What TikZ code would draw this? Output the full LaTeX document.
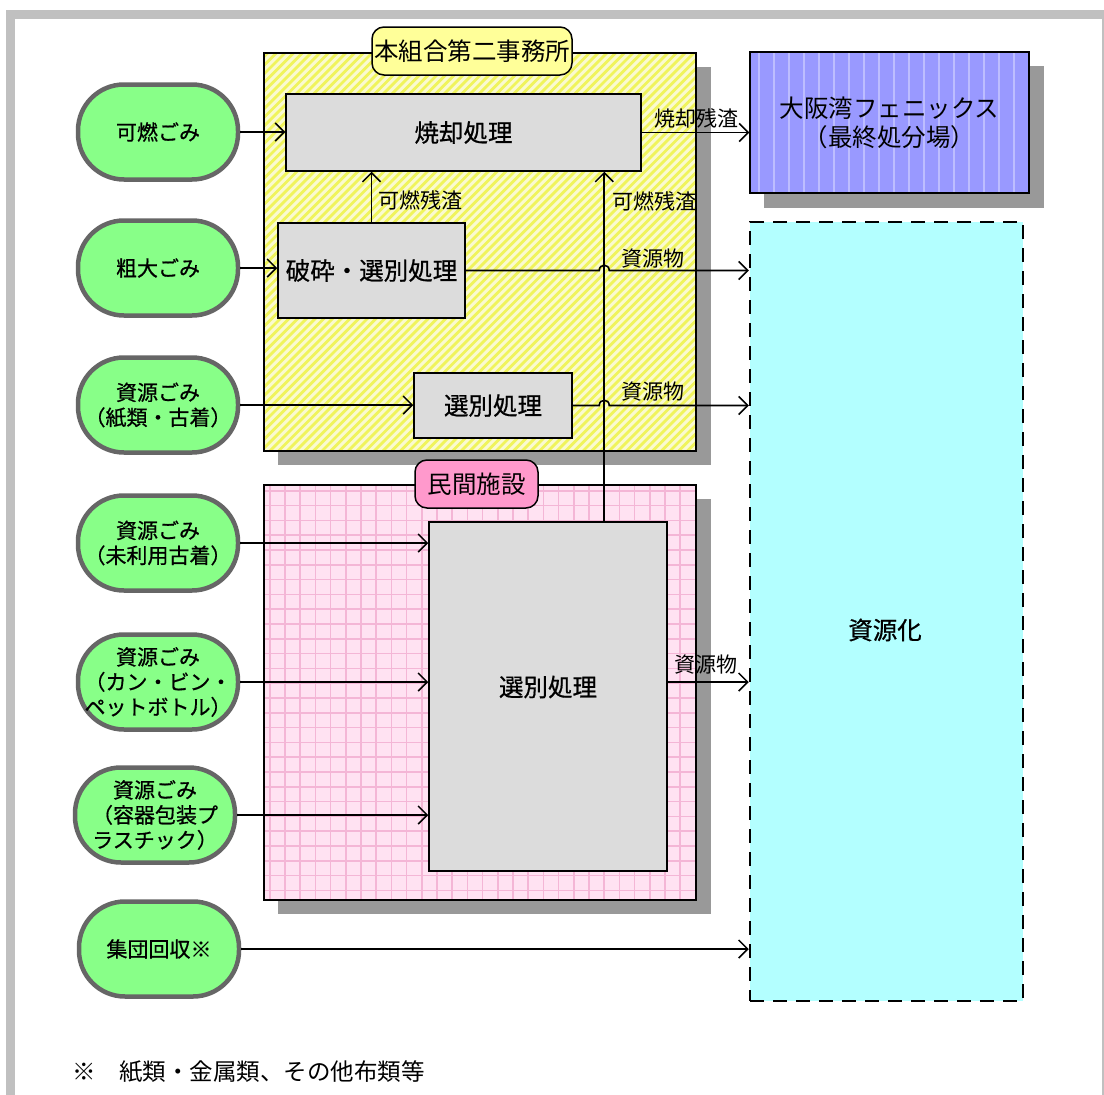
\documentclass[tikz,border=0pt]{standalone}
\usepackage{fontspec}
\setmainfont{Noto Sans CJK JP}
\newfontfamily\medfont[FakeBold=0.7]{Noto Sans CJK JP}
\usetikzlibrary{arrows.meta,calc}
\definecolor{framegray}{HTML}{C0C0C0}
\definecolor{shadowc}{HTML}{999999}
\definecolor{ovalgreen}{HTML}{88FF88}
\definecolor{ovalborder}{HTML}{666666}
\definecolor{procgray}{HTML}{DCDCDC}
\definecolor{yelbase}{HTML}{FAFAD0}
\definecolor{yelstripe}{HTML}{F0F45C}
\definecolor{yellabel}{HTML}{FFFF99}
\definecolor{pinkbase}{HTML}{FFE2F2}
\definecolor{pinkline}{HTML}{F4B6D6}
\definecolor{pinklabel}{HTML}{FF99CC}
\definecolor{bluebase}{HTML}{9999FF}
\definecolor{bluestripe}{HTML}{BDBDFF}
\definecolor{cyanfill}{HTML}{B3FFFF}
\begin{document}
\begin{tikzpicture}[x=1pt,y=-1pt,
  oval/.style={draw=ovalborder, fill=ovalgreen, line width=4.5pt, rounded corners=46pt,
    minimum width=160pt, minimum height=95pt, align=center, inner sep=0pt,
    font=\medfont\fontsize{21}{25}\selectfont},
  proc/.style={draw=black, fill=procgray, line width=1.5pt, inner sep=0pt,
    font=\medfont\fontsize{24.5}{29}\selectfont},
  tagbox/.style={draw=black, line width=1.5pt, rounded corners=12pt, inner sep=0pt,
    font=\fontsize{24.5}{29}\selectfont},
  yellowbox/.style={draw=black, line width=1.5pt, fill=yelbase, inner sep=0pt,
    path picture={
      \foreach \k in {0,...,100}
        \draw[yelstripe, line width=2.8pt]
          ($(path picture bounding box.south west)+(\k*8.7-420,0)$) -- ++(420,-420);
    }},
  pinkbox/.style={draw=black, line width=1.5pt, fill=pinkbase, inner sep=0pt,
    path picture={
      \foreach \k in {0,...,29} {
        \draw[pinkline, line width=1.6pt]
          ($(path picture bounding box.north west)+(\k*15.2+6,0)$) -- ++(0,440);
        \draw[pinkline, line width=1.6pt]
          ($(path picture bounding box.north west)+(0,\k*14.8+6)$) -- ++(440,0);
      }
    }},
  bluebox/.style={draw=black, line width=1.5pt, fill=bluebase, inner sep=0pt, align=center,
    font=\fontsize{24.5}{29}\selectfont,
    path picture={
      \foreach \k in {0,...,19}
        \draw[bluestripe, line width=2pt]
          ($(path picture bounding box.north west)+(\k*15+9,0)$) -- ++(0,160);
    }},
  recbox/.style={draw=black, fill=cyanfill, line width=2.5pt, dash pattern=on 14pt off 9pt, inner sep=0pt},
  conn/.style={draw=black, line width=1.6pt, -{Straight Barb[length=9pt,width=18pt,line width=1.5pt]}},
  lbl/.style={inner sep=0pt, font=\fontsize{21}{25}\selectfont},
  big/.style={inner sep=0pt, font=\medfont\fontsize{24.5}{29}\selectfont}
]
\useasboundingbox (0,0) rectangle (1104,1095);
% outer frame
\fill[framegray] (6,10) rectangle (1104,1095);
\fill[white] (15,19) rectangle (1101.5,1095);

% shadows
\fill[shadowc] (278,67) rectangle (711,465);
\fill[shadowc] (278,499) rectangle (711,914);
\fill[shadowc] (764,66) rectangle (1044,208);

% containers
\node[yellowbox, minimum width=432pt, minimum height=398pt, anchor=north west] (ybox) at (263,52) {};
\node[pinkbox, minimum width=432pt, minimum height=415pt, anchor=north west] (pbox) at (263,484) {};
\node[tagbox, fill=yellabel, minimum width=200pt, minimum height=48pt] (ylab) at (472,51) {本組合第二事務所};
\node[tagbox, fill=pinklabel, minimum width=123pt, minimum height=48pt] (plab) at (476.5,484) {民間施設};

% destination boxes
\node[bluebox, minimum width=279pt, minimum height=141pt] (phx) at (889.5,122.5) {大阪湾フェニックス\\（最終処分場）};
\node[recbox, minimum width=273pt, minimum height=779pt] (rec) at (886.5,611.5) {};
\node[big] (rectext) at (885,630) {資源化};

% process boxes
\node[proc, minimum width=355pt, minimum height=77pt] (inc) at (463.5,132.5) {焼却処理};
\node[proc, minimum width=187pt, minimum height=95pt] (crush) at (371.5,270.5) {破砕・選別処理};
\node[proc, minimum width=158pt, minimum height=65pt] (sort1) at (493,405.5) {選別処理};
\node[proc, minimum width=238pt, minimum height=349pt] (sort2) at (548,696.5) {};
\node[big] (sort2text) at (548,687) {選別処理};

% source ovals
\node[oval] (g1) at (158,132) {可燃ごみ};
\node[oval] (g2) at (158,268) {粗大ごみ};
\node[oval] (g3) at (158,405) {資源ごみ\\（紙類・古着）};
\node[oval] (g4) at (158,543) {資源ごみ\\（未利用古着）};
\node[oval] (g5) at (158,682) {資源ごみ\\（カン・ビン・\\ペットボトル）};
\node[oval] (g6) at (155,815) {資源ごみ\\（容器包装プ\\ラスチック）};
\node[oval] (g7) at (159,949) {集団回収※};

% inputs
\draw[conn] (g1.east) -- (g1.east -| inc.west);
\draw[conn] (g2.east) -- (g2.east -| crush.west);
\draw[conn] (g3.east) -- (g3.east -| sort1.west);
\draw[conn] (g4.east) -- (g4.east -| sort2.west);
\draw[conn] (g5.east) -- (g5.east -| sort2.west);
\draw[conn] (g6.east) -- (g6.east -| sort2.west);
\draw[conn] (g7.east) -- (g7.east -| rec.west);

% residues
\draw[conn] (inc.east) -- (inc.east -| phx.west);
\node[lbl, anchor=west] (l1) at (654,118) {焼却残渣};
\draw[conn] (crush.north) -- (crush.north |- inc.south);
\node[lbl, anchor=west] (l2) at (378,200) {可燃残渣};
\coordinate (vb) at ($(sort2.north west)+(176,0)$);
\draw[conn] (vb) -- (vb |- inc.south);
\node[lbl, anchor=west] (l3) at (612,201) {可燃残渣};

% recyclables with hops
\coordinate (h1a) at ($(crush.east -| vb)+(-5,0)$);
\coordinate (h1b) at ($(crush.east -| vb)+(5,0)$);
\draw[conn] (crush.east) -- (h1a) .. controls ($(h1a)+(0,-7)$) and ($(h1b)+(0,-7)$) .. (h1b) -- (crush.east -| rec.west);
\node[lbl] (l4) at (653,259) {資源物};
\coordinate (h2a) at ($(sort1.east -| vb)+(-5,0)$);
\coordinate (h2b) at ($(sort1.east -| vb)+(5,0)$);
\draw[conn] (sort1.east) -- (h2a) .. controls ($(h2a)+(0,-7)$) and ($(h2b)+(0,-7)$) .. (h2b) -- (sort1.east -| rec.west);
\node[lbl] (l5) at (653,392) {資源物};
\draw[conn] (g5.east -| sort2.east) -- (g5.east -| rec.west);
\node[lbl] (l6) at (706,665) {資源物};

% note
\node[anchor=west, inner sep=0pt, font=\fontsize{23.5}{28}\selectfont] (note) at (72,1072) {※　紙類・金属類、その他布類等};
\end{tikzpicture}
\end{document}
